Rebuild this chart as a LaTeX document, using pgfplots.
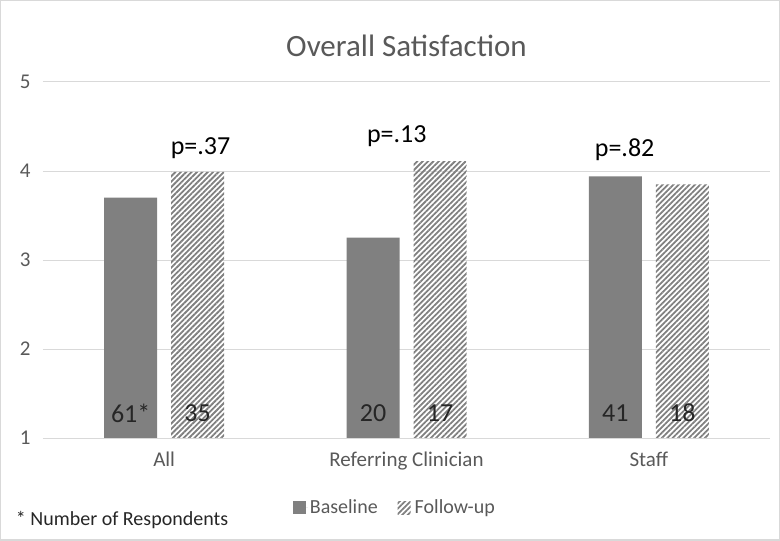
\documentclass[border=0pt]{standalone}
\usepackage{pgfplots}
\pgfplotsset{compat=1.18}
\usepackage{fontspec}
\setmainfont{Carlito}
\usetikzlibrary{patterns.meta}
\definecolor{bargray}{HTML}{808080}
\definecolor{txtgray}{HTML}{595959}
\definecolor{gridgray}{HTML}{D9D9D9}
\definecolor{dark}{HTML}{262626}
\begin{document}
\begin{tikzpicture}
\begin{axis}[
  scale only axis,
  width=727bp, height=356bp,
  xmin=-0.5, xmax=2.5,
  ymin=1, ymax=5,
  ytick={1,2,3,4,5},
  xtick={0,1,2},
  xticklabels={All, Referring Clinician, Staff},
  major tick length=0pt,
  axis line style={draw=none},
  ymajorgrids,
  grid style={gridgray, line width=0.9bp},
  ybar, bar width=53bp,
  clip=false,
  /pgf/number format/assume math mode=true,
  tick label style={font=\fontsize{21bp}{24bp}\selectfont, text=txtgray},
  yticklabel style={xshift=-9bp},
  xticklabel style={yshift=-11bp, text height=14bp, text depth=4bp},
  legend style={draw=none, fill=none, at={(rel axis cs:0.484,-0.196)}, anchor=center,
    font=\fontsize{20bp}{23bp}\selectfont, text=txtgray,
    legend columns=2, /tikz/every even column/.append style={column sep=18bp}},
  legend image code/.code={\path[#1] (0bp,-6.5bp) rectangle (13bp,6.5bp);
    \path (0bp,0bp) -- (15bp,0bp);},
  title={Overall Satisfaction},
  title style={font=\fontsize{31bp}{36bp}\selectfont, text=txtgray, yshift=16bp},
]
\addplot[fill=bargray, draw=none, bar shift=-33.5bp]
  coordinates {(0,3.70) (1,3.25) (2,3.94)};
\addplot[draw=none, pattern={Lines[angle=45,distance=3.8bp,line width=1.8bp]}, pattern color=bargray, bar shift=33.5bp]
  coordinates {(0,3.99) (1,4.11) (2,3.85)};
\legend{Baseline, Follow-up}
% counts inside the bars
\begin{scope}[every node/.style={font=\fontsize{26bp}{30bp}\selectfont, text=dark}]
\node at (axis cs:0,1.28) [xshift=-33.5bp] {61*};
\node at (axis cs:0,1.28) [xshift=33.5bp] {35};
\node at (axis cs:1,1.28) [xshift=-33.5bp] {20};
\node at (axis cs:1,1.28) [xshift=33.5bp] {17};
\node at (axis cs:2,1.28) [xshift=-33.5bp] {41};
\node at (axis cs:2,1.28) [xshift=33.5bp] {18};
\node[text=black] at (axis cs:0.15,4.26) {p=.37};
\node[text=black] at (axis cs:0.96,4.39) {p=.13};
\node[text=black] at (axis cs:1.9,4.24) {p=.82};
\end{scope}
\node[anchor=west, font=\fontsize{20bp}{23bp}\selectfont, text=dark] at (rel axis cs:-0.042,-0.23) {* Number of Respondents};
\draw[gridgray, line width=1.5bp] (rel axis cs:-0.0581,-0.2873) rectangle (rel axis cs:1.0127,1.2281);
\end{axis}
\end{tikzpicture}
\end{document}
